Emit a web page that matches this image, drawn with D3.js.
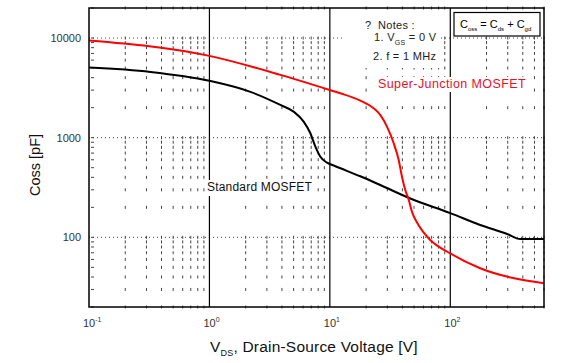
<!DOCTYPE html>
<html>
<head>
<meta charset="utf-8">
<script src="https://cdn.jsdelivr.net/npm/d3@7"></script>
<style>
body { margin: 0; background: #fff; }
text { font-family: "Liberation Sans", Arial, sans-serif; }
</style>
</head>
<body>
<script>
var w = 561, h = 363;
var margin = {top: 8, right: 17, bottom: 56, left: 89};

// values
var superJunctionV = [0.1, 1, 3.88, 10, 12.2, 17.9, 23.1, 26.2, 29.8, 33.9, 37.3, 39.7, 42.3, 45.1, 48.1, 53.2, 60, 68.2, 100, 177, 333, 600];
var superJunctionC = [9450, 6620, 4270, 3010, 2790, 2355, 1973, 1690, 1290, 879, 597, 405, 298, 240, 180, 139, 112, 94, 69, 49, 39, 34.7];
var standardV = [0.1, 0.324, 1, 2.19, 3.88, 5.0, 6.06, 6.89, 7.58, 8.34, 9.48, 11, 17.9, 26.2, 46.6, 100, 177, 297, 381, 600];
var standardC = [5050, 4570, 3720, 2880, 2130, 1825, 1449, 1107, 813, 644, 561, 520, 410, 335, 245, 175, 133, 108, 96, 96];
var xTickValues = [0.1, 1, 10, 100];
var xTickExp = ["-1", "0", "1", "2"];
var yTickValues = [100, 1000, 10000];
var yTickLabels = ["100", "1000", "10000"];

var svg = d3.select("body").append("svg")
            .attr("width", w)
            .attr("height", h);

var x = d3.scaleLog().domain([0.1, 600]).range([margin.left, w - margin.right]);
var y = d3.scaleLog().domain([20, 20000]).range([h - margin.bottom, margin.top]);

var plot = svg.append("g");

// dotted minor grid
var minorX = [];
[0.1, 1, 10, 100].forEach(function(d){
    for (var k = 2; k <= 9; k++) { if (k * d <= 600) minorX.push(k * d); }
});
var minorY = [];
[10, 100, 1000, 10000].forEach(function(d){
    for (var k = 1; k <= 9; k++) { if (k * d >= 20 && k * d <= 20000) minorY.push(k * d); }
});

minorX.forEach(function(xv){
    plot.selectAll(null)
        .data(minorY)
        .enter()
        .append("line")
        .attr("x1", x(xv)).attr("x2", x(xv))
        .attr("y1", function(d){ return y(d) - 1.5; })
        .attr("y2", function(d){ return y(d) + 1.5; })
        .attr("stroke", "#444")
        .attr("stroke-width", 1);
});

// short marks along the left edge
plot.selectAll(".lmark")
    .data(minorY)
    .enter()
    .append("line")
    .attr("x1", x(0.1) + 2).attr("x2", x(0.1) + 5)
    .attr("y1", function(d){ return y(d); })
    .attr("y2", function(d){ return y(d); })
    .attr("stroke", "#444");

plot.selectAll(".hgrid")
    .data(yTickValues)
    .enter()
    .append("line")
    .attr("x1", x(0.1)).attr("x2", x(600))
    .attr("y1", function(d){ return y(d); })
    .attr("y2", function(d){ return y(d); })
    .attr("stroke", "#444")
    .attr("stroke-dasharray", "1,3");

// solid decade lines
plot.selectAll(".vgrid")
    .data([1, 10, 100])
    .enter()
    .append("line")
    .attr("x1", function(d){ return x(d); })
    .attr("x2", function(d){ return x(d); })
    .attr("y1", y(20)).attr("y2", y(20000))
    .attr("stroke", "#000")
    .attr("stroke-width", 1.2);

var line = d3.line()
    .x(function(d){ return x(d[0]); })
    .y(function(d){ return y(d[1]); })
    .curve(d3.curveMonotoneX);

svg.append("path")
    .datum(d3.zip(standardV, standardC))
    .attr("d", line)
    .attr("fill", "none")
    .attr("stroke", "#000")
    .attr("stroke-width", 2);

svg.append("path")
    .datum(d3.zip(superJunctionV, superJunctionC))
    .attr("d", line)
    .attr("fill", "none")
    .attr("stroke", "#f00")
    .attr("stroke-width", 2);

// notes area (white)
svg.append("rect")
    .attr("x", 345).attr("y", 10).attr("width", 96).attr("height", 58)
    .attr("fill", "#fff");

var notes = svg.append("g").attr("font-size", 11).attr("fill", "#222").attr("letter-spacing", 0.3);
notes.append("text").attr("x", 365).attr("y", 29).text("?");
notes.append("text").attr("x", 378).attr("y", 29).text("Notes :");
var n1 = notes.append("text").attr("x", 374).attr("y", 41);
n1.append("tspan").text("1. V");
n1.append("tspan").attr("font-size", 7).attr("dy", 4).text("GS");
n1.append("tspan").attr("dy", -4).text(" = 0 V");
notes.append("text").attr("x", 373).attr("y", 60).text("2. f = 1 MHz");

// Coss formula box
svg.append("rect")
    .attr("x", 454).attr("y", 12.5).attr("width", 86).attr("height", 23.5)
    .attr("fill", "#fff").attr("stroke", "#000").attr("stroke-width", 1.2);
var f = svg.append("text").attr("x", 460).attr("y", 28).attr("font-size", 11).attr("fill", "#000");
f.append("tspan").text("C");
f.append("tspan").attr("font-size", 6).attr("dy", 3).text("oss");
f.append("tspan").attr("dy", -3).text(" = C");
f.append("tspan").attr("font-size", 6).attr("dy", 3).text("ds");
f.append("tspan").attr("dy", -3).text(" + C");
f.append("tspan").attr("font-size", 6).attr("dy", 3).text("gd");

// curve labels, on white
var sjBg = svg.append("rect").attr("fill", "#fff");
var sj = svg.append("text")
    .attr("x", 378).attr("y", 88)
    .attr("font-size", 12.5).attr("fill", "#e8102a")
    .attr("letter-spacing", 0.4)
    .text("Super-Junction MOSFET");
var sb = sj.node().getBBox();
sjBg.attr("x", sb.x - 1).attr("y", sb.y).attr("width", sb.width + 2).attr("height", sb.height + 1);

var stdBg = svg.append("rect").attr("fill", "#fff");
var std = svg.append("text")
    .attr("x", 207).attr("y", 191)
    .attr("font-size", 12).attr("fill", "#111")
    .attr("letter-spacing", 0.2)
    .text("Standard MOSFET");
var bb = std.node().getBBox();
stdBg.attr("x", bb.x - 1).attr("y", bb.y).attr("width", bb.width + 2).attr("height", bb.height + 2);

// frame
svg.append("rect")
    .attr("x", x(0.1)).attr("y", y(20000))
    .attr("width", x(600) - x(0.1)).attr("height", y(20) - y(20000))
    .attr("fill", "none").attr("stroke", "#000").attr("stroke-width", 1.5);

// tick labels
svg.selectAll(".ylab")
    .data(yTickValues)
    .enter()
    .append("text")
    .attr("x", 81)
    .attr("y", function(d){ return y(d) + 4; })
    .attr("text-anchor", "end")
    .attr("font-size", 11)
    .attr("fill", "#333")
    .text(function(d, i){ return yTickLabels[i]; });

var xl = svg.selectAll(".xlab")
    .data(xTickValues)
    .enter()
    .append("text")
    .attr("x", function(d){ return x(d) - 6; })
    .attr("y", 327)
    .attr("font-size", 11)
    .attr("fill", "#333");
xl.append("tspan").text("10");
xl.append("tspan").attr("font-size", 7).attr("dy", -5).text(function(d, i){ return xTickExp[i]; });

// axis titles
svg.append("text")
    .attr("transform", "translate(40,165) rotate(-90)")
    .attr("text-anchor", "middle")
    .attr("font-size", 14.5)
    .attr("fill", "#111")
    .text("Coss [pF]");

var xt = svg.append("text")
    .attr("x", 210).attr("y", 352)
    .attr("font-size", 15.5)
    .attr("fill", "#111")
    .attr("letter-spacing", 0.2);
xt.append("tspan").text("V");
xt.append("tspan").attr("font-size", 9).attr("dy", 4).text("DS");
xt.append("tspan").attr("dy", -4).text(", Drain-Source Voltage [V]");
</script>
</body>
</html>
